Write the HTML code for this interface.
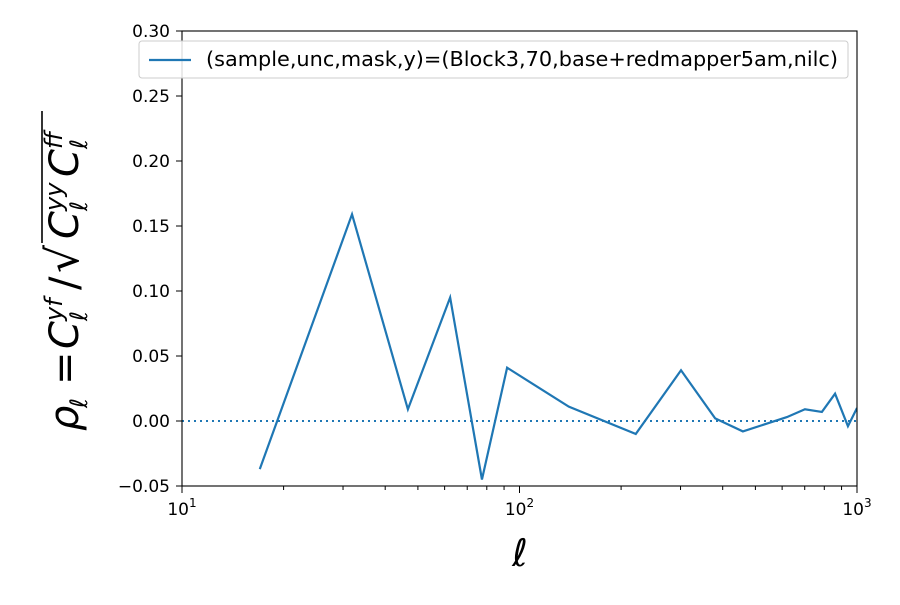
<!DOCTYPE html>
<html><head><meta charset="utf-8"><style>
body{margin:0;background:#fff;}
svg text{font-family:"DejaVu Sans","Liberation Sans",sans-serif;}
</style></head><body>
<svg width="900" height="600" viewBox="0 0 900 600">
<defs><clipPath id="pc"><rect x="182" y="31" width="675" height="455"/></clipPath></defs>
<g id="ticks"></g>
<line x1="182" y1="421" x2="857" y2="421" stroke="#1f77b4" stroke-width="2" stroke-dasharray="2,4"/>
<path id="series" fill="none" stroke="#1f77b4" stroke-width="2.2" clip-path="url(#pc)"/>
<rect x="182" y="31" width="675" height="455" fill="none" stroke="#000" stroke-width="1.1"/>
<g>
<rect x="139" y="41" width="709" height="37" rx="3" fill="#fff" fill-opacity="0.85" stroke="#ccc"/>
<line x1="149" y1="60" x2="191" y2="60" stroke="#1f77b4" stroke-width="2.2"/>
<text x="206" y="66" font-size="20.5" textLength="632" lengthAdjust="spacingAndGlyphs">(sample,unc,mask,y)=(Block3,70,base+redmapper5am,nilc)</text>
</g>
<text x="520" y="566" font-size="38" font-style="italic" text-anchor="middle" font-family="DejaVu Serif, serif">ℓ</text>
<g transform="translate(78,263) rotate(-90)" font-family="DejaVu Serif, serif" font-style="italic">
<text x="-168" y="0" font-size="40">ρ</text>
<text x="-145" y="9" font-size="24">ℓ</text>
<text x="-122" y="0" font-size="40" font-style="normal">=</text>
<text x="-86" y="0" font-size="40">C</text>
<text x="-58" y="-16" font-size="24">yf</text>
<text x="-58" y="9" font-size="24">ℓ</text>
<text x="-27" y="0" font-size="40" font-style="normal">/</text>
<text x="-10" y="0" font-size="44" font-style="normal">√</text>
<line x1="20" y1="-36" x2="152" y2="-36" stroke="#000" stroke-width="1.6"/>
<text x="24" y="0" font-size="40">C</text>
<text x="52" y="-16" font-size="24">yy</text>
<text x="52" y="9" font-size="24">ℓ</text>
<text x="86" y="0" font-size="40">C</text>
<text x="114" y="-16" font-size="24">ff</text>
<text x="114" y="9" font-size="24">ℓ</text>
</g>
</svg>
<script>
const ells=[17.0,31.9,46.7,62.3,77.4,91.9,140,221,301,380,459,620,701,787,861,940,1000];
const rho=[-0.037,0.159,0.009,0.095,-0.045,0.041,0.011,-0.010,0.039,0.002,-0.008,0.003,0.009,0.007,0.021,-0.004,0.010];
const yTicks=[-0.05,0.00,0.05,0.10,0.15,0.20,0.25,0.30];
const xDecades=[1,2,3];
const X=v=>182+(Math.log10(v)-1)*337.5;
const Y=v=>421-v*1300;
const NS="http://www.w3.org/2000/svg";
const g=document.getElementById('ticks');
function mk(t,a){const e=document.createElementNS(NS,t);for(const k in a)e.setAttribute(k,a[k]);g.appendChild(e);return e;}
yTicks.forEach(v=>{
 const l=mk('line',{x1:176,x2:182,y1:Y(v),y2:Y(v),stroke:'#000'});
 
 
 const t=mk('text',{x:170,y:Y(v)+6,'font-size':17,'text-anchor':'end'});
 t.textContent=(v<0?'\u2212':'')+Math.abs(v).toFixed(2);
 
 
});
xDecades.forEach(d=>{
 const x=X(Math.pow(10,d));
 const l=mk('line',{x1:x,x2:x,y1:486,y2:493,stroke:'#000'});
 
 
 const t=mk('text',{x:x,y:515,'font-size':17,'text-anchor':'middle'});
 t.innerHTML='10<tspan font-size="12" dy="-8">'+d+'</tspan>';
 
 
 if(d<3){for(let m=2;m<10;m++){const xm=X(m*Math.pow(10,d));
  const lm=mk('line',{x1:xm,x2:xm,y1:486,y2:490,stroke:'#000'});
  
  }}
});
document.getElementById('series').setAttribute('d',ells.map((e,i)=>(i?'L':'M')+X(e)+','+Y(rho[i])).join(' '));
</script>
</body></html>
